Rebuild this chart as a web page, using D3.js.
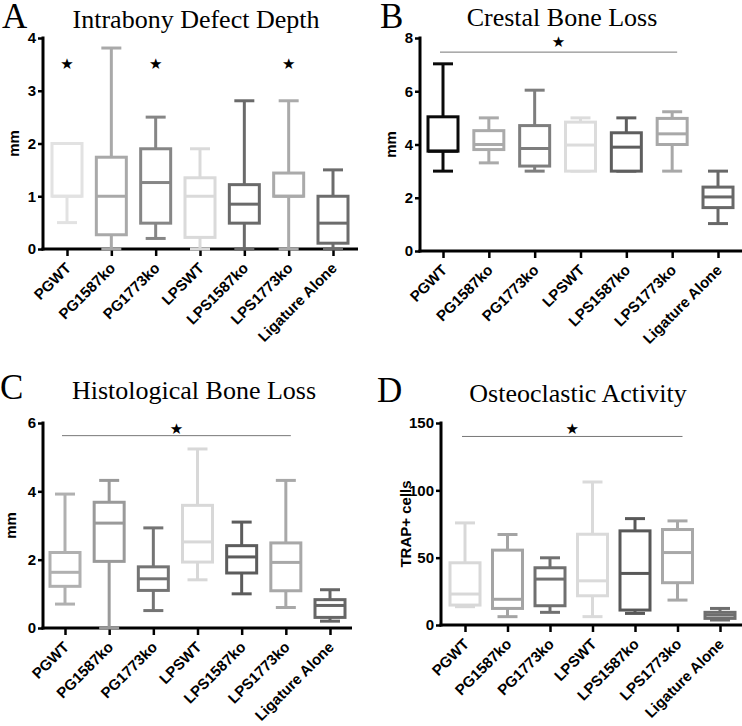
<!DOCTYPE html>
<html><head><meta charset="utf-8">
<script src="https://cdn.jsdelivr.net/npm/d3@7"></script>
<style>
html,body{margin:0;padding:0;background:#fff;}
svg{display:block;}
</style></head>
<body>
<svg id="chart" width="742" height="726"></svg>
<script>
// ---------- data ----------
const groups = ["PGWT","PG1587ko","PG1773ko","LPSWT","LPS1587ko","LPS1773ko","Ligature Alone"];

// A: Intrabony Defect Depth (mm)
const minA = [0.5, 0, 0.2, 0, 0, 0, 0];
const q1A  = [1.0, 0.27, 0.49, 0.22, 0.49, 1.0, 0.11];
const medA = [1.0, 1.0, 1.26, 1.0, 0.85, 1.0, 0.49];
const q3A  = [2.0, 1.74, 1.9, 1.35, 1.22, 1.44, 1.0];
const maxA = [2.0, 3.81, 2.5, 1.9, 2.81, 2.81, 1.5];
const ticksA = [0,1,2,3,4];
const starsA = [0, 2, 5];          // groups marked with a star
const starValA = 3.5;

// B: Crestal Bone Loss (mm)
const minB = [3.0, 3.31, 3.0, 3.0, 3.0, 3.0, 1.03];
const q1B  = [3.75, 3.81, 3.19, 3.0, 3.0, 4.0, 1.63];
const medB = [3.75, 4.0, 3.85, 3.98, 3.9, 4.4, 2.03];
const q3B  = [5.04, 4.52, 4.71, 4.84, 4.44, 4.98, 2.4];
const maxB = [7.03, 5.0, 6.04, 5.0, 5.0, 5.23, 3.0];
const ticksB = [0,2,4,6,8];
const sigB = {from:0, to:5, line:7.47, star:7.84};

// C: Histological Bone Loss (mm)
const minC = [0.7, 0, 0.51, 1.41, 1.0, 0.6, 0.2];
const q1C  = [1.22, 1.95, 1.1, 1.93, 1.61, 1.09, 0.31];
const medC = [1.63, 3.07, 1.44, 2.52, 2.08, 1.92, 0.66];
const q3C  = [2.21, 3.68, 1.79, 3.59, 2.41, 2.49, 0.83];
const maxC = [3.92, 4.32, 2.93, 5.24, 3.1, 4.32, 1.12];
const ticksC = [0,2,4,6];
const sigC = {from:0, to:5, line:5.63, star:5.82};

// D: Osteoclastic Activity (TRAP+ cells)
const minD = [13.6, 6.2, 9.4, 6.2, 8.6, 18.5, 3.7];
const q1D  = [14.8, 12.3, 14.3, 21.7, 11.1, 31.4, 4.9];
const medD = [23, 19.1, 34.1, 32.8, 38.3, 53.8, 7.4];
const q3D  = [46.2, 55.6, 42.5, 67.4, 69.9, 70.9, 9.4];
const maxD = [75.8, 67.2, 49.9, 106.2, 79, 77.3, 12.3];
const ticksD = [0,50,100,150];
const sigD = {from:0, to:5, line:140, star:145.7};

// ---------- styles ----------
const colorsA = ["#e2e2e2","#a9a9a9","#868686","#dadada","#6a6a6a","#aaaaaa","#6c6c6c"];
const colorsB = ["#0a0a0a","#aaaaaa","#7e7e7e","#dcdcdc","#5e5e5e","#a8a8a8","#686868"];
const colorsC = ["#b0b0b0","#9a9a9a","#747474","#d8d8d8","#5c5c5c","#a8a8a8","#666666"];
const colorsD = ["#d8d8d8","#a4a4a4","#707070","#dadada","#585858","#a8a8a8","#6e6e6e"];

const panels = [
  {letter:"A", title:"Intrabony Defect Depth", ylab:"mm", min:minA,q1:q1A,med:medA,q3:q3A,max:maxA, ticks:ticksA, colors:colorsA,
   stars:starsA, starVal:starValA,
   axisX:43, top:38, bottom:249, xEnd:358, first:67, last:333, titleX:196, titleY:28, letterX:2, letterY:28, ylabX:13},
  {letter:"B", title:"Crestal Bone Loss", ylab:"mm", min:minB,q1:q1B,med:medB,q3:q3B,max:maxB, ticks:ticksB, colors:colorsB,
   sig:sigB,
   axisX:420, top:38, bottom:251, xEnd:742, first:443, last:718, titleX:562, titleY:26, letterX:380, letterY:28, ylabX:390},
  {letter:"C", title:"Histological Bone Loss", ylab:"mm", min:minC,q1:q1C,med:medC,q3:q3C,max:maxC, ticks:ticksC, colors:colorsC,
   sig:sigC,
   axisX:43, top:423, bottom:628, xEnd:352, first:65, last:330, titleX:194, titleY:399, letterX:0, letterY:399, ylabX:10},
  {letter:"D", title:"Osteoclastic Activity", ylab:"TRAP+ cells", min:minD,q1:q1D,med:medD,q3:q3D,max:maxD, ticks:ticksD, colors:colorsD,
   sig:sigD,
   axisX:441, top:423, bottom:625, xEnd:742, first:465, last:720, titleX:578, titleY:402, letterX:377, letterY:402, ylabX:405}
];

const svg = d3.select("#chart");
const SANS = "'Liberation Sans', Arial, Helvetica, sans-serif";
const SERIF = "'Liberation Serif', 'Times New Roman', serif";
const boxW = 30, capW = 20;

panels.forEach(p => {
  const g = svg.append("g");
  const y = d3.scaleLinear().domain([0, d3.max(p.ticks)]).range([p.bottom, p.top]);
  const x = d3.scalePoint().domain(groups).range([p.first, p.last]);

  // letter and title
  g.append("text").attr("x", p.letterX).attr("y", p.letterY)
    .attr("font-family", SERIF).attr("font-size", 35).attr("fill", "#000").text(p.letter);
  g.append("text").attr("x", p.titleX).attr("y", p.titleY).attr("text-anchor","middle")
    .attr("font-family", SERIF).attr("font-size", 26).attr("fill", "#000").text(p.title);

  // y axis
  const ya = g.append("g").attr("transform", `translate(${p.axisX},0)`)
    .call(d3.axisLeft(y).tickValues(p.ticks).tickSize(5).tickSizeOuter(0).tickPadding(2).tickFormat(d3.format("d")));
  ya.select(".domain").remove();
  ya.selectAll(".tick line").attr("stroke","#000").attr("stroke-width",2.5);
  ya.selectAll(".tick text").attr("font-family", SANS).attr("font-weight","bold").attr("font-size",15).attr("fill","#000");
  g.append("line").attr("x1",p.axisX).attr("x2",p.axisX).attr("y1",p.top-1.5).attr("y2",p.bottom+1.5)
    .attr("stroke","#000").attr("stroke-width",3);

  // x axis
  const xa = g.append("g").attr("transform", `translate(0,${p.bottom})`)
    .call(d3.axisBottom(x).tickSize(7).tickSizeOuter(0).tickFormat(""));
  xa.select(".domain").remove();
  xa.selectAll(".tick line").attr("stroke","#000").attr("stroke-width",2.5);
  g.append("line").attr("x1",p.axisX-1.5).attr("x2",p.xEnd).attr("y1",p.bottom).attr("y2",p.bottom)
    .attr("stroke","#000").attr("stroke-width",3);

  // x labels
  groups.forEach(name => {
    g.append("text")
      .attr("transform", `translate(${x(name)+5},${p.bottom+20}) rotate(-45)`)
      .attr("text-anchor","end")
      .attr("font-family", SANS).attr("font-weight","bold").attr("font-size",15).attr("fill","#000")
      .text(name);
  });

  // y label
  g.append("text")
    .attr("transform", `translate(${p.ylabX},${(p.top+p.bottom)/2}) rotate(-90)`)
    .attr("text-anchor","middle").attr("dominant-baseline","central")
    .attr("font-family", SANS).attr("font-weight","bold").attr("font-size",15).attr("fill","#000")
    .text(p.ylab);

  // boxes
  groups.forEach((name, i) => {
    const cx = x(name), c = p.colors[i];
    const bg = g.append("g").attr("stroke", c).attr("stroke-width", 3).attr("fill","none");
    // whiskers
    bg.append("line").attr("x1",cx).attr("x2",cx).attr("y1",y(p.max[i])).attr("y2",y(p.q3[i]));
    bg.append("line").attr("x1",cx).attr("x2",cx).attr("y1",y(p.q1[i])).attr("y2",y(p.min[i]));
    bg.append("line").attr("x1",cx-capW/2).attr("x2",cx+capW/2).attr("y1",y(p.max[i])).attr("y2",y(p.max[i]));
    bg.append("line").attr("x1",cx-capW/2).attr("x2",cx+capW/2).attr("y1",y(p.min[i])).attr("y2",y(p.min[i]));
    // box
    bg.append("rect").attr("x",cx-boxW/2).attr("y",y(p.q3[i])).attr("width",boxW)
      .attr("height",Math.max(0,y(p.q1[i])-y(p.q3[i]))).attr("fill","#fff");
    bg.append("line").attr("x1",cx-boxW/2).attr("x2",cx+boxW/2).attr("y1",y(p.med[i])).attr("y2",y(p.med[i]));
  });

  // significance
  if (p.stars) {
    p.stars.forEach(i => {
      g.append("text").attr("x", x(groups[i])).attr("y", y(p.starVal)).attr("text-anchor","middle")
        .attr("dominant-baseline","central").attr("font-family","'DejaVu Sans', sans-serif")
        .attr("font-size",15).attr("fill","#000").text("\u2605");
    });
  }
  if (p.sig) {
    const x1 = x(groups[p.sig.from]) - 3, x2 = x(groups[p.sig.to]) + 5;
    g.append("line").attr("x1",x1).attr("x2",x2).attr("y1",y(p.sig.line)).attr("y2",y(p.sig.line))
      .attr("stroke","#777").attr("stroke-width",1);
    g.append("text").attr("x",(x1+x2)/2).attr("y",y(p.sig.star)).attr("text-anchor","middle")
      .attr("dominant-baseline","central").attr("font-family","'DejaVu Sans', sans-serif")
      .attr("font-size",15).attr("fill","#000").text("\u2605");
  }
});
</script>
</body></html>
